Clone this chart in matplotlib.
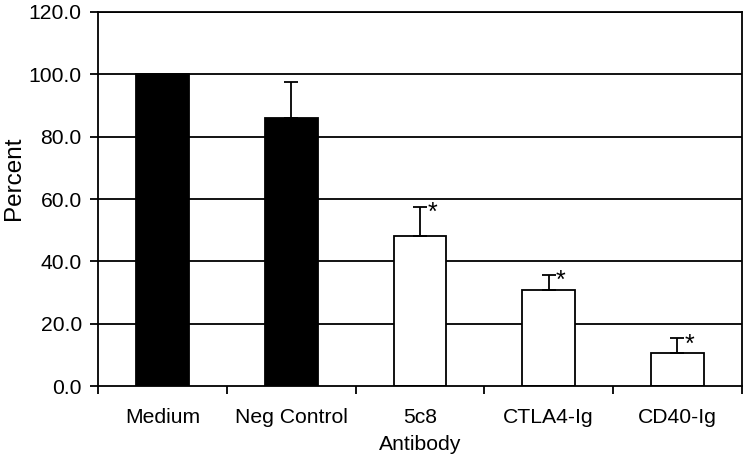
import matplotlib
matplotlib.use("Agg")
import matplotlib.pyplot as plt
import numpy as np

plt.rcParams['font.family'] = ['Liberation Sans', 'DejaVu Sans']

categories = ["Medium", "Neg Control", "5c8", "CTLA4-Ig", "CD40-Ig"]
values = [100.0, 86.0, 48.1, 30.8, 10.5]
errors = [0.0, 11.5, 9.4, 4.8, 4.8]
colors = ["black", "black", "white", "white", "white"]
significant = [False, False, True, True, True]
yticks = [0, 20, 40, 60, 80, 100, 120]
ytick_labels = ["0.0", "20.0", "40.0", "60.0", "80.0", "100.0", "120.0"]

fig = plt.figure(figsize=(7.5, 4.58), dpi=100)
ax = fig.add_axes([0.1313, 0.1572, 0.9887 - 0.1313, 0.9738 - 0.1572])

x = np.arange(len(categories))
for yv in yticks[1:]:
    ax.axhline(yv, color="black", lw=1.3, zorder=1)

ax.bar(x, values, width=0.41, color=colors, edgecolor="black", linewidth=1.3, zorder=2)
err_idx = [i for i, e in enumerate(errors) if e > 0]
ax.errorbar(x[err_idx], np.array(values)[err_idx],
            yerr=[np.zeros(len(err_idx)), np.array(errors)[err_idx]],
            fmt="none", ecolor="black", elinewidth=1.3, capsize=5, capthick=1.3, zorder=3)
for i in range(len(categories)):
    if significant[i]:
        ax.text(x[i] + 0.095, values[i] + errors[i] - 2.0, "*", fontsize=18,
                ha="center", va="center", zorder=4)

ax.set_xlim(-0.5, len(categories) - 0.5)
ax.set_ylim(0, 120)
ax.set_yticks(yticks)
ax.set_yticklabels(ytick_labels, fontsize=15.2)
ax.set_xticks(np.arange(-0.5, len(categories) + 0.5, 1.0))
ax.set_xticklabels([])
ax.set_xticks(x, minor=True)
ax.set_xticklabels(categories, minor=True, fontsize=15.2)
ax.tick_params(axis="x", which="minor", length=0, pad=15.5)
ax.tick_params(axis="x", which="major", direction="out", length=6, width=1.3)
ax.tick_params(axis="y", direction="out", length=6, width=1.3, pad=6)
for s in ax.spines.values():
    s.set_linewidth(1.3)
ax.set_ylabel("Percent", fontsize=17.5)
ax.yaxis.set_label_coords(-0.114, 0.556)
ax.set_xlabel("Antibody", fontsize=15.2)
ax.xaxis.set_label_coords(0.5, -0.131)

fig.savefig("out.png", dpi=100)
